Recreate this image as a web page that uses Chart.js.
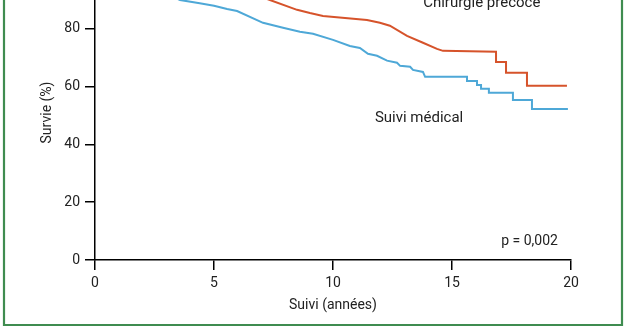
<!DOCTYPE html>
<html>
<head>
<meta charset="utf-8">
<script src="https://cdn.jsdelivr.net/npm/chart.js@4/dist/chart.umd.min.js"></script>
<style>
  html, body { margin: 0; padding: 0; background: #fff; }
  #wrap { position: relative; width: 626px; height: 336px; }
</style>
</head>
<body>
<div id="wrap"><canvas id="c" width="626" height="336"></canvas></div>
<script>
// ---- Data ----
const xTicks = [0, 5, 10, 15, 20];
const yTicks = [0, 20, 40, 60, 80];

const chirurgieTimes    = [0, 3, 5, 6.5, 7.35, 8.49, 9.03, 9.58, 11.43, 11.97, 12.39, 13.11, 13.78, 14.37, 14.62, 16.85, 16.85, 17.27, 17.27, 18.15, 18.15, 19.83];
const chirurgieSurvival = [100, 97, 95, 92.5, 90.0, 86.6, 85.5, 84.5, 83.1, 82.1, 81.1, 77.6, 75.2, 73.1, 72.4, 72.1, 68.5, 68.5, 64.8, 64.8, 60.3, 60.3];

const medicalTimes    = [0, 1.5, 2.8, 3.57, 4.4, 5.0, 5.55, 5.97, 7.06, 7.9, 8.61, 9.16, 10.0, 10.71, 11.13, 11.47, 11.85, 12.27, 12.69, 12.82, 13.24, 13.36, 13.78, 13.87, 15.63, 15.63, 16.05, 16.05, 16.22, 16.22, 16.55, 16.55, 17.56, 17.56, 18.36, 18.36, 19.87];
const medicalSurvival = [100, 97, 93, 90.0, 88.9, 88.0, 86.9, 86.2, 82.1, 80.4, 79.0, 78.3, 76.2, 74.1, 73.4, 71.4, 70.7, 69.0, 68.3, 67.2, 66.9, 65.8, 65.1, 63.4, 63.4, 62.0, 62.0, 60.6, 60.6, 59.3, 59.3, 57.9, 57.9, 55.4, 55.4, 52.3, 52.3];

const labels = {
  chirurgie: { text: "Chirurgie précoce", x: 16.25, y: 87.6 },
  medical:   { text: "Suivi médical", x: 11.76, y: 49.0 },
  pValue:    { text: "p = 0,002", x: 19.45, y: 6.3 }
};
const xTitle = "Suivi (années)";
const yTitle = "Survie (%)";

const toPts = (xs, ys) => xs.map((x, i) => ({ x: x, y: ys[i] }));

const TEXT = '#222222';
const FONT = 'Roboto, "DejaVu Sans", sans-serif';

const framePlugin = {
  id: 'frame',
  beforeDraw(chart) {
    const ctx = chart.ctx;
    ctx.save();
    ctx.fillStyle = '#ffffff';
    ctx.fillRect(0, 0, chart.width, chart.height);
    ctx.strokeStyle = '#3f8c50';
    ctx.lineWidth = 2.2;
    ctx.beginPath();
    ctx.moveTo(4, 0);
    ctx.lineTo(4, 325);
    ctx.lineTo(622, 325);
    ctx.lineTo(622, 0);
    ctx.stroke();
    ctx.restore();
  },
  afterDraw(chart) {
    const ctx = chart.ctx;
    const xs = chart.scales.x, ys = chart.scales.y;
    ctx.save();
    ctx.fillStyle = TEXT;
    ctx.font = '15px ' + FONT;
    ctx.textAlign = 'center';
    ctx.textBaseline = 'alphabetic';
    ctx.fillText(labels.chirurgie.text, xs.getPixelForValue(labels.chirurgie.x), ys.getPixelForValue(labels.chirurgie.y));
    ctx.textAlign = 'left';
    ctx.textBaseline = 'middle';
    ctx.fillText(labels.medical.text, xs.getPixelForValue(labels.medical.x), ys.getPixelForValue(labels.medical.y));
    ctx.font = '14px ' + FONT;
    ctx.textAlign = 'right';
    ctx.fillText(labels.pValue.text, xs.getPixelForValue(labels.pValue.x), ys.getPixelForValue(labels.pValue.y));
    ctx.translate(47, 112.5);
    ctx.rotate(-Math.PI / 2);
    ctx.textAlign = 'center';
    ctx.textBaseline = 'middle';
    ctx.fillText(yTitle, 0, 0);
    ctx.restore();
  }
};

new Chart(document.getElementById('c'), {
  type: 'scatter',
  data: {
    datasets: [
      {
        label: 'Chirurgie précoce',
        data: toPts(chirurgieTimes, chirurgieSurvival),
        showLine: true,
        borderColor: '#d6532b',
        borderWidth: 2,
        pointRadius: 0,
        tension: 0,
        fill: false
      },
      {
        label: 'Suivi médical',
        data: toPts(medicalTimes, medicalSurvival),
        showLine: true,
        borderColor: '#4ea8d7',
        borderWidth: 2,
        pointRadius: 0,
        tension: 0,
        fill: false
      }
    ]
  },
  options: {
    responsive: false,
    animation: false,
    layout: { padding: { left: 0, right: 55, top: 0, bottom: 0 } },
    plugins: { legend: { display: false }, tooltip: { enabled: false } },
    scales: {
      x: {
        type: 'linear',
        min: 0, max: 20,
        afterBuildTicks: s => { s.ticks = xTicks.map(v => ({ value: v })); },
        afterFit: s => { s.height = 76; s.paddingLeft = 0; s.paddingRight = 0; },
        border: { display: true, color: '#000', width: 1.5 },
        grid: { display: true, drawOnChartArea: false, drawTicks: true, tickLength: 10, color: '#000', lineWidth: 1.5 },
        ticks: { color: TEXT, font: { family: FONT, size: 14 }, padding: 5, maxRotation: 0 },
        title: { display: true, text: xTitle, color: TEXT, font: { family: FONT, size: 14 }, padding: { top: 0, bottom: 22.6 } }
      },
      y: {
        type: 'linear',
        min: 0, max: 90,
        afterBuildTicks: s => { s.ticks = yTicks.map(v => ({ value: v })); },
        afterFit: s => { s.width = 95; s.paddingTop = 0; s.paddingBottom = 0; },
        border: { display: true, color: '#000', width: 1.5 },
        grid: { display: true, drawOnChartArea: false, drawTicks: true, tickLength: 10, color: '#000', lineWidth: 1.5 },
        ticks: { color: TEXT, font: { family: FONT, size: 14 }, padding: 5 }
      }
    }
  },
  plugins: [framePlugin]
});
</script>
</body>
</html>
